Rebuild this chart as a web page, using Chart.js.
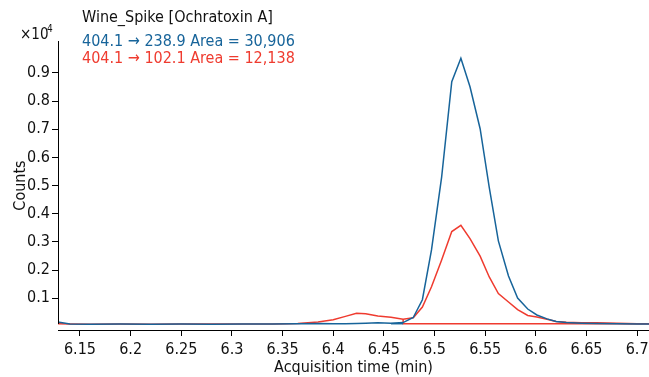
<!DOCTYPE html>
<html>
<head>
<meta charset="utf-8">
<script src="https://cdn.jsdelivr.net/npm/chart.js@4"></script>
<style>
  html, body { margin: 0; padding: 0; background: #fff; }
  #wrap { width: 649px; height: 377px; position: relative; }
</style>
</head>
<body>
<div id="wrap"><canvas id="chart"></canvas></div>
<script>
  // acquisition time (min)
  const times = [6.128, 6.140, 6.160, 6.190, 6.220, 6.250, 6.280, 6.310, 6.340, 6.365,
    6.385, 6.400, 6.412, 6.423, 6.432, 6.444, 6.457, 6.469, 6.479, 6.488,
    6.497, 6.507, 6.517, 6.526, 6.535, 6.545, 6.554, 6.563, 6.573, 6.582,
    6.592, 6.601, 6.611, 6.620, 6.630, 6.645, 6.660, 6.680, 6.700, 6.712];

  // counts x10^4, 404.1 -> 238.9
  const blueCounts = [0.016, 0.009, 0.008, 0.009, 0.008, 0.009, 0.008, 0.009, 0.009, 0.010,
    0.011, 0.010, 0.010, 0.011, 0.012, 0.013, 0.012, 0.014, 0.032, 0.095,
    0.272, 0.53, 0.869, 0.952, 0.851, 0.702, 0.494, 0.304, 0.179, 0.101,
    0.062, 0.041, 0.027, 0.018, 0.014, 0.012, 0.011, 0.010, 0.009, 0.009];

  // counts x10^4, 404.1 -> 102.1
  const redCounts = [0.010, 0.009, 0.008, 0.009, 0.008, 0.009, 0.009, 0.009, 0.009, 0.011,
    0.016, 0.024, 0.036, 0.047, 0.045, 0.037, 0.033, 0.026, 0.031, 0.069,
    0.141, 0.236, 0.337, 0.359, 0.312, 0.25, 0.176, 0.117, 0.087, 0.060,
    0.039, 0.034, 0.026, 0.018, 0.015, 0.013, 0.013, 0.012, 0.010, 0.010];

  // integration baselines
  const blueBaseT = [6.457, 6.469];
  const blueBaseV = [0.010, 0.010];
  const redBaseT = [6.469, 6.469, 6.712];
  const redBaseV = [0.026, 0.010, 0.010];

  const xTicks = [6.15, 6.2, 6.25, 6.3, 6.35, 6.4, 6.45, 6.5, 6.55, 6.6, 6.65, 6.7];
  const yTicks = [0.1, 0.2, 0.3, 0.4, 0.5, 0.6, 0.7, 0.8, 0.9];

  const BLUE = "#17649a";
  const RED = "#ef3b2f";
  const FONT = "'DejaVu Sans Condensed', 'DejaVu Sans', sans-serif";

  const pts = (xs, ys) => xs.map((x, i) => ({ x: x, y: ys[i] }));

  const labelsPlugin = {
    id: "labels",
    afterDraw(chart) {
      const ctx = chart.ctx;
      const area = chart.chartArea;
      ctx.save();
      // y axis line (stops short of the x axis)
      ctx.strokeStyle = "#000";
      ctx.lineWidth = 1;
      ctx.beginPath();
      ctx.moveTo(area.left + 0.5, area.top);
      ctx.lineTo(area.left + 0.5, area.bottom - 6);
      ctx.stroke();

      ctx.textBaseline = "middle";
      ctx.textAlign = "left";
      ctx.font = "16px " + FONT;
      ctx.fillStyle = "#111";
      ctx.fillText("Wine_Spike [Ochratoxin A]", 82, 18);
      ctx.fillStyle = BLUE;
      ctx.fillText("404.1 \u2192 238.9 Area = 30,906", 82, 42);
      ctx.fillStyle = RED;
      ctx.fillText("404.1 \u2192 102.1 Area = 12,138", 82, 59);

      ctx.fillStyle = "#111";
      ctx.font = "15px " + FONT;
      ctx.fillText("\u00d710", 20, 35);
      ctx.font = "10px " + FONT;
      ctx.fillText("4", 47, 29);
      ctx.restore();
    }
  };

  new Chart(document.getElementById("chart"), {
    type: "line",
    data: {
      datasets: [
        { data: pts(blueBaseT, blueBaseV), borderColor: BLUE, borderWidth: 1.5, pointRadius: 0, tension: 0 },
        { data: pts(times, blueCounts), borderColor: BLUE, borderWidth: 1.5, pointRadius: 0, tension: 0 },
        { data: pts(redBaseT, redBaseV), borderColor: RED, borderWidth: 1.5, pointRadius: 0, tension: 0 },
        { data: pts(times, redCounts), borderColor: RED, borderWidth: 1.5, pointRadius: 0, tension: 0 }
      ]
    },
    options: {
      responsive: true,
      maintainAspectRatio: false,
      animation: false,
      layout: { padding: { top: 41, left: 0, right: 0, bottom: 0 } },
      plugins: {
        legend: { display: false },
        tooltip: { enabled: false }
      },
      scales: {
        x: {
          type: "linear",
          min: 6.1283,
          max: 6.7117,
          afterBuildTicks: scale => { scale.ticks = xTicks.map(v => ({ value: v })); },
          afterFit: scale => {
            scale.height = 47;
            scale.paddingRight = 0;
            scale.paddingLeft = 0;
          },
          grid: { drawOnChartArea: false, drawTicks: true, tickLength: 6, color: "#000" },
          border: { display: true, color: "#000", width: 1 },
          ticks: {
            color: "#111",
            padding: 4,
            maxRotation: 0,
            autoSkip: false,
            font: { family: FONT, size: 16 },
            callback: v => String(+v.toFixed(2))
          },
          title: {
            display: true,
            text: "Acquisition time (min)",
            color: "#111",
            font: { family: FONT, size: 16 },
            padding: { top: 0, bottom: 0 }
          }
        },
        y: {
          type: "linear",
          min: -0.0124,
          max: 1.0135,
          afterBuildTicks: scale => { scale.ticks = yTicks.map(v => ({ value: v })); },
          afterFit: scale => { scale.width = 58; },
          grid: { drawOnChartArea: false, drawTicks: true, tickLength: 6, color: "#000" },
          border: { display: false },
          ticks: {
            color: "#111",
            padding: 2,
            autoSkip: false,
            font: { family: FONT, size: 16 },
            callback: v => String(+v.toFixed(1))
          },
          title: {
            display: true,
            text: "Counts",
            color: "#111",
            font: { family: FONT, size: 16 },
            padding: { top: 11, bottom: 0 }
          }
        }
      }
    },
    plugins: [labelsPlugin]
  });
</script>
</body>
</html>
